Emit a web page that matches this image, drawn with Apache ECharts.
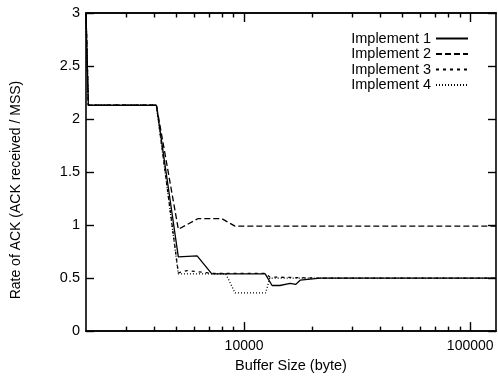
<!DOCTYPE html>
<html>
<head>
<meta charset="utf-8">
<script src="https://cdn.jsdelivr.net/npm/echarts@6/dist/echarts.min.js"></script>
<style>
  html, body { margin: 0; padding: 0; background: #fff; }
  #chart { width: 498px; height: 378px; }
</style>
</head>
<body>
<div id="chart"></div>
<script>
// Buffer size (bytes) and ACK rate for each implementation
const impl1 = [[2000, 3.0], [2048, 2.13], [4096, 2.13], [5120, 0.70], [6200, 0.71], [7200, 0.54],
  [12400, 0.54], [13300, 0.43], [14400, 0.43], [16000, 0.45], [16900, 0.44], [17700, 0.48],
  [19600, 0.49], [21700, 0.50], [130000, 0.50]];
const impl2 = [[2000, 3.0], [2048, 2.13], [4096, 2.13], [5120, 0.96], [6240, 1.06], [7980, 1.06],
  [9120, 0.99], [130000, 0.99]];
const impl3 = [[2000, 3.0], [2048, 2.13], [4096, 2.13], [5120, 0.55], [5600, 0.57], [7200, 0.545],
  [12400, 0.545], [13000, 0.51], [17000, 0.505], [21000, 0.50], [130000, 0.50]];
const impl4 = [[2000, 3.0], [2048, 2.13], [4096, 2.13], [5120, 0.54], [8300, 0.54], [9120, 0.36],
  [12460, 0.36], [12990, 0.50], [130000, 0.50]];

const seriesNames = ['Implement 1', 'Implement 2', 'Implement 3', 'Implement 4'];
const seriesDash = ['solid', [6, 3], [3, 4], [1, 2]];

// x range and ticks (bytes)
const xMin = 2000, xMax = 130000;
const majorTicks = [10000, 100000];
const minorTicks = [3000, 4000, 5000, 6000, 7000, 8000, 9000,
  20000, 30000, 40000, 50000, 60000, 70000, 80000, 90000];

const lg = v => Math.log10(v);
const font = 'Liberation Sans, Arial, Helvetica, sans-serif';

const chart = echarts.init(document.getElementById('chart'), null, { renderer: 'canvas' });

const lineAxis = { show: true, lineStyle: { color: '#000', width: 1.6 } };

function xAxisDef(position, ticks, len, withLabels) {
  return {
    type: 'value',
    position: position,
    min: lg(xMin), max: lg(xMax),
    axisLine: lineAxis,
    axisTick: { show: true, inside: true, length: len, customValues: ticks.map(lg),
      lineStyle: { color: '#000', width: 1.4 } },
    axisLabel: withLabels ? {
      show: true, customValues: majorTicks.map(lg), margin: 8,
      formatter: v => String(Math.round(Math.pow(10, v))),
      color: '#000', fontSize: 14, fontFamily: font
    } : { show: false },
    splitLine: { show: false },
    name: withLabels ? 'Buffer Size (byte)' : '',
    nameLocation: 'middle', nameGap: 19,
    nameTextStyle: { color: '#000', fontSize: 14.5, fontFamily: font }
  };
}

const option = {
  animation: false,
  backgroundColor: '#fff',
  grid: { left: 86, right: 2, top: 13, bottom: 38, containLabel: false },
  legend: {
    orient: 'vertical', right: 24, top: 26, align: 'right',
    itemWidth: 32, itemHeight: 14, itemGap: 0.5,
    itemStyle: { opacity: 0 },
    textStyle: { color: '#000', fontSize: 14.5, fontFamily: font, lineHeight: 14 },
    data: seriesNames
  },
  xAxis: [
    xAxisDef('bottom', majorTicks, 9, true),
    xAxisDef('bottom', minorTicks, 4.5, false),
    xAxisDef('top', majorTicks, 9, false),
    xAxisDef('top', minorTicks, 4.5, false)
  ],
  yAxis: [
    {
      type: 'value', position: 'left', min: 0, max: 3, interval: 0.5,
      axisLine: lineAxis,
      axisTick: { show: true, inside: true, length: 8, lineStyle: { color: '#000', width: 1.4 } },
      axisLabel: { color: '#000', fontSize: 14.5, fontFamily: font, margin: 6 },
      splitLine: { show: false },
      name: 'Rate of ACK (ACK received / MSS)', nameLocation: 'middle', nameGap: 63,
      nameTextStyle: { color: '#000', fontSize: 14, fontFamily: font, padding: [0, 36, 0, 0] }
    },
    {
      type: 'value', position: 'right', min: 0, max: 3, interval: 0.5,
      axisLine: lineAxis,
      axisTick: { show: true, inside: true, length: 8, lineStyle: { color: '#000', width: 1.4 } },
      axisLabel: { show: false },
      splitLine: { show: false }
    }
  ],
  series: [impl1, impl2, impl3, impl4].map((d, i) => ({
    name: seriesNames[i],
    type: 'line',
    xAxisIndex: 0, yAxisIndex: 0,
    symbol: 'none',
    clip: true,
    z: 10 - i,
    lineStyle: { color: '#000', width: 1.3, type: seriesDash[i] },
    itemStyle: { color: '#000' },
    data: d.map(p => [lg(p[0]), p[1]])
  }))
};

chart.setOption(option);
</script>
</body>
</html>
